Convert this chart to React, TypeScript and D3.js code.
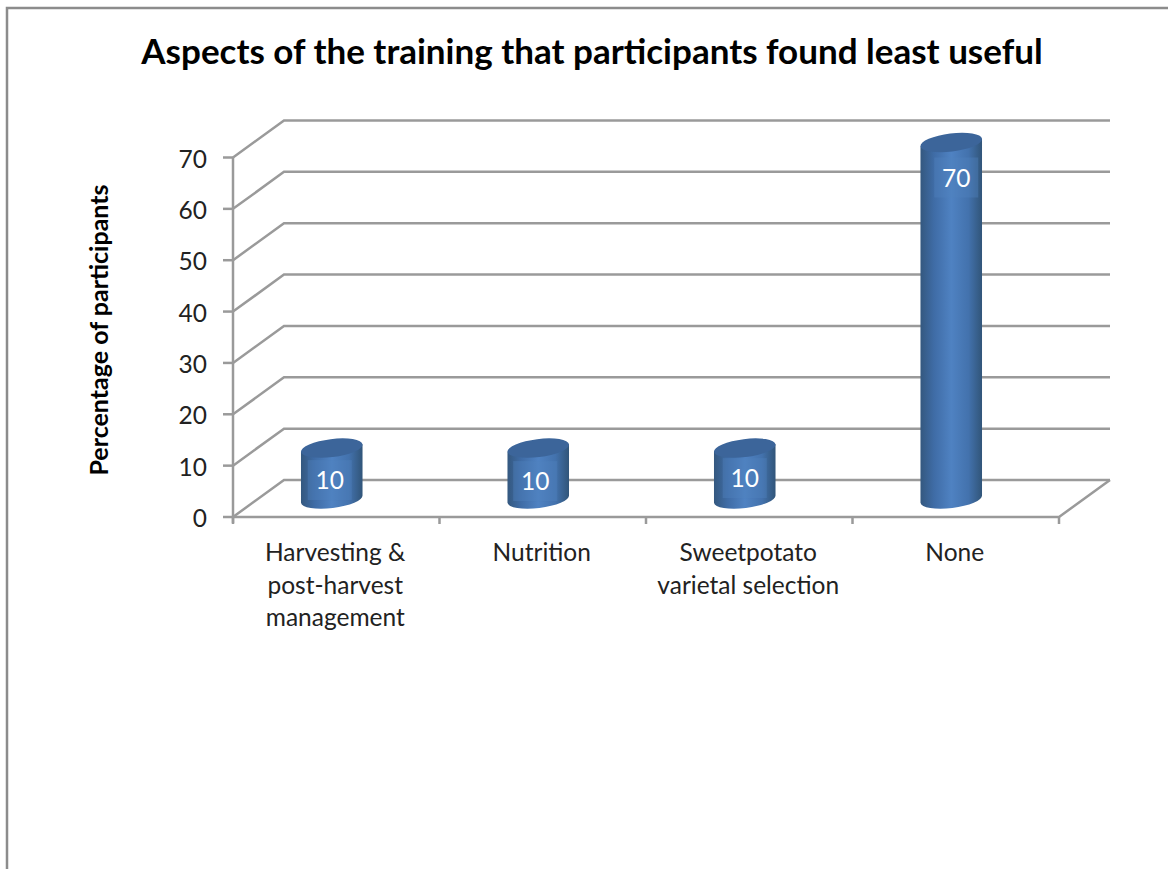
import React from "react";
import * as d3 from "d3";

const categories = [
  ["Harvesting &", "post-harvest", "management"],
  ["Nutrition"],
  ["Sweetpotato", "varietal selection"],
  ["None"],
];
const values = [10, 10, 10, 70];
const yTicks = [0, 10, 20, 30, 40, 50, 60, 70];
const titleText = "Aspects of the training that participants found least useful";
const yAxisTitle = "Percentage of participants";
const labelNudgeX = [-2, -3, 0, 5];
const labelNudgeY = [0, 1, -2, 3];

const W = 1168, H = 869;
const FONT = "Lato, Carlito, Calibri, 'Open Sans', sans-serif";
const GRID = "#9a9a9a";
const x0 = 233, x1 = 1059, dx = 51, dy = -37;
const yScale = d3.scaleLinear().domain([0, 70]).range([517, 157.5]);
const xScale = d3.scaleBand<number>().domain(d3.range(categories.length)).range([x0, x1]);
const barBase = d3.scaleLinear().domain([0, 70]).range([499, 142.5]);

const RX = 31, RY = 9, ROT = -7;
const ca = Math.cos((ROT * Math.PI) / 180), sa = Math.sin((ROT * Math.PI) / 180);

function Cylinder({ cx, top, bottom }: { cx: number; top: number; bottom: number }) {
  const lx = cx - RX * ca, rx = cx + RX * ca;
  const ldy = -RX * sa;
  const body = `M${lx},${top + ldy} L${lx},${bottom + ldy} A${RX},${RY} ${ROT} 0 0 ${rx},${bottom - ldy} L${rx},${top - ldy} Z`;
  return (
    <g>
      <path d={body} fill="url(#cyl)" />
      <ellipse cx={cx} cy={top} rx={RX} ry={RY} fill="#3c659a" transform={`rotate(${ROT} ${cx} ${top})`} />
    </g>
  );
}

export default function App() {
  return (
    <svg width={W} height={H} viewBox={`0 0 ${W} ${H}`} style={{ position: "absolute", left: 0, top: 0, background: "#fff" }}>
      <defs>
        <linearGradient id="cyl" x1="0" x2="1" y1="0" y2="0">
          <stop offset="0" stopColor="#34587f" />
          <stop offset="0.22" stopColor="#3f6ca6" />
          <stop offset="0.5" stopColor="#4f82c2" />
          <stop offset="0.78" stopColor="#4372ad" />
          <stop offset="1" stopColor="#315579" />
        </linearGradient>
      </defs>
      {/* frame */}
      <path d={`M7,${H} V8 H${W}`} fill="none" stroke="#8c8c8c" strokeWidth={2.5} />
      {/* title */}
      <text x={592} y={64} textAnchor="middle" fontFamily={FONT} fontWeight={700} fontSize={35} fill="#000">{titleText}</text>
      {/* walls */}
      {yTicks.map((t) => (
        <g key={t} stroke={GRID} strokeWidth={2.5} fill="none">
          <path d={`M${x0},${yScale(t)} L${x0 + dx},${yScale(t) + dy} H${x1 + dx}`} />
          <line x1={x0 - 10} x2={x0} y1={yScale(t)} y2={yScale(t)} />
        </g>
      ))}
      <g stroke={GRID} strokeWidth={2.5} fill="none">
        <line x1={x0} x2={x0} y1={yScale(70)} y2={523} />
        <path d={`M${x0},${yScale(0)} H${x1} L${x1 + dx},${yScale(0) + dy}`} />
        {d3.range(categories.length + 1).map((i) => {
          const tx = i < categories.length ? xScale(i)! : x1;
          return <line key={i} x1={tx} x2={tx} y1={517} y2={524} />;
        })}
      </g>
      {/* y tick labels */}
      {yTicks.map((t) => (
        <text key={t} x={207} y={yScale(t) + 10} textAnchor="end" fontFamily={FONT} fontSize={24.5} fill="#222">{t}</text>
      ))}
      {/* y title */}
      <text transform="translate(108,330) rotate(-90)" textAnchor="middle" fontFamily={FONT} fontWeight={700} fontSize={25} fill="#000">{yAxisTitle}</text>
      {/* bars */}
      {values.map((v, i) => {
        const cx = xScale(i)! + xScale.bandwidth() / 2 - 4.5;
        const top = barBase(v);
        const ly = top + labelNudgeY[i];
        return (
          <g key={i}>
            <Cylinder cx={cx} top={top} bottom={barBase(0)} />
            <rect x={cx + labelNudgeX[i] - 22} y={ly + 12} width={44} height={40} fill="#4f81bd" opacity={0.4} />
            <text x={cx + labelNudgeX[i]} y={ly + 41} textAnchor="middle" fontFamily={FONT} fontSize={24.5} fill="#fff">{v}</text>
          </g>
        );
      })}
      {/* category labels */}
      {categories.map((lines, i) => (
        <text key={i} textAnchor="middle" fontFamily={FONT} fontSize={24.5} fill="#222">
          {lines.map((l, j) => (
            <tspan key={j} x={xScale(i)! + xScale.bandwidth() / 2 - 1} y={561 + j * 32.5}>{l}</tspan>
          ))}
        </text>
      ))}
    </svg>
  );
}
